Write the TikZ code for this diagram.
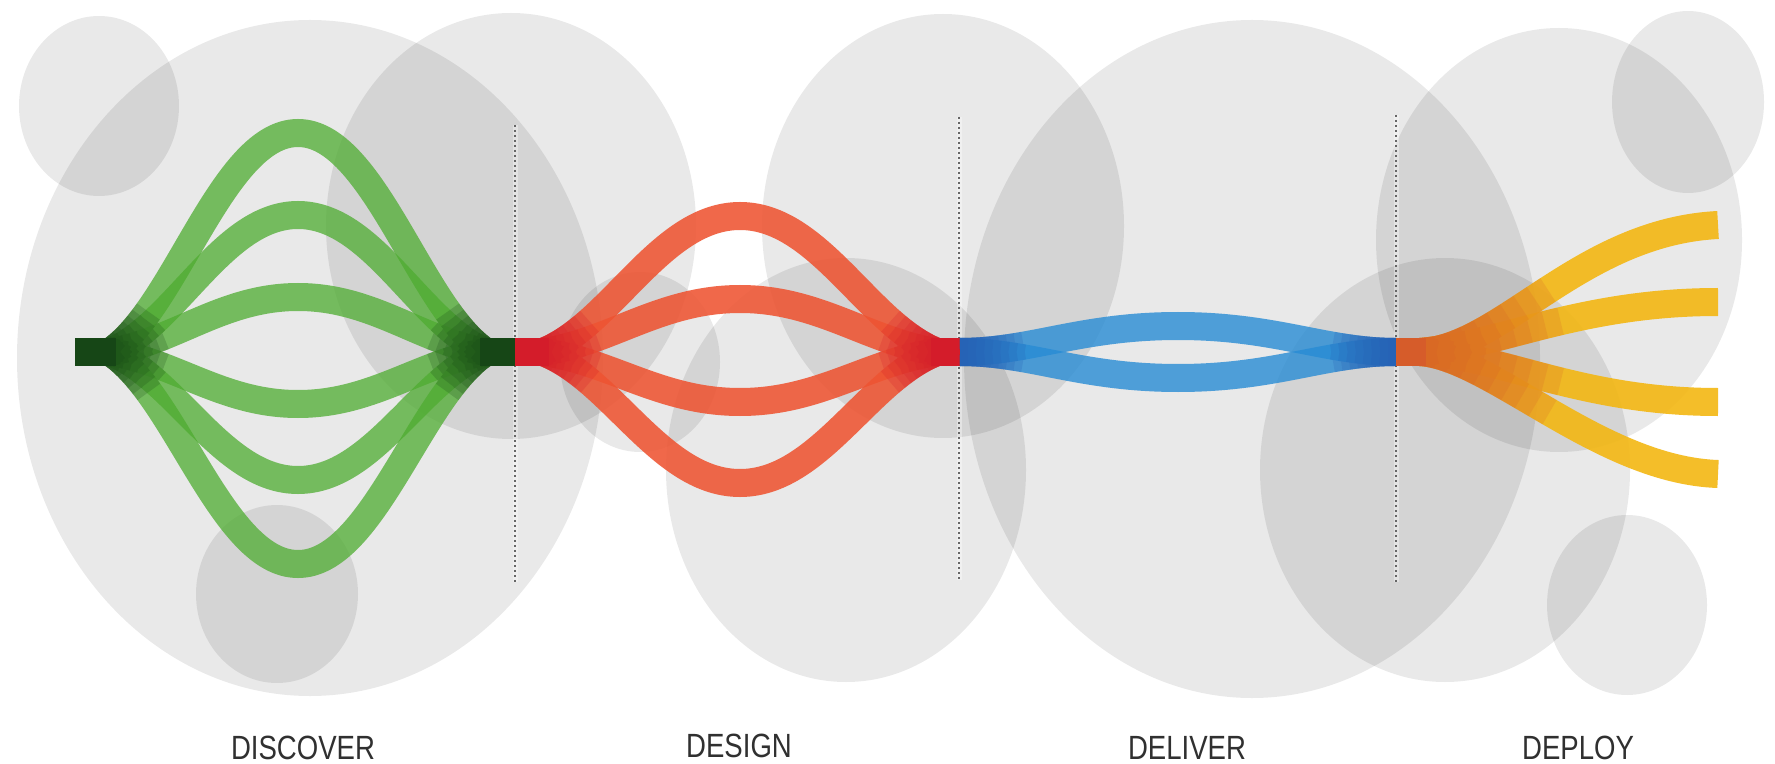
\documentclass[tikz,border=0pt]{standalone}
\usepackage{fontspec}
\usepackage{graphicx}
\newfontfamily\labfont{Liberation Sans}
\definecolor{gLight}{RGB}{78,172,48}
\definecolor{gDark}{RGB}{22,70,22}
\definecolor{rLight}{RGB}{238,84,50}
\definecolor{rDark}{RGB}{212,28,42}
\definecolor{bLight}{RGB}{40,140,212}
\definecolor{bDark}{RGB}{38,92,178}
\definecolor{yLight}{RGB}{243,183,18}
\definecolor{yDark}{RGB}{214,92,42}
\definecolor{labgray}{RGB}{48,48,48}
% half strands, each starting at its bundle
\newcommand\gLeftHalves{%
  (110,352) .. controls (176,308.2) and (223,133) .. (298,133)
  (110,352) .. controls (176,324.6) and (223,215) .. (298,215)
  (110,352) .. controls (176,341) and (223,297) .. (298,297)
  (110,352) .. controls (176,362.4) and (223,404) .. (298,404)
  (110,352) .. controls (176,377.6) and (223,480) .. (298,480)
  (110,352) .. controls (176,394.4) and (223,564) .. (298,564)}
\newcommand\gRightHalves{%
  (486,352) .. controls (420,308.2) and (373,133) .. (298,133)
  (486,352) .. controls (420,324.6) and (373,215) .. (298,215)
  (486,352) .. controls (420,341) and (373,297) .. (298,297)
  (486,352) .. controls (420,362.4) and (373,404) .. (298,404)
  (486,352) .. controls (420,377.6) and (373,480) .. (298,480)
  (486,352) .. controls (420,394.4) and (373,564) .. (298,564)}
\newcommand\rLeftHalves{%
  (543,352) .. controls (612,324.8) and (661,216) .. (740,216)
  (543,352) .. controls (612,341.4) and (661,299) .. (740,299)
  (543,352) .. controls (612,362) and (661,402) .. (740,402)
  (543,352) .. controls (612,378.2) and (661,483) .. (740,483)}
\newcommand\rRightHalves{%
  (937,352) .. controls (868,324.8) and (819,216) .. (740,216)
  (937,352) .. controls (868,341.4) and (819,299) .. (740,299)
  (937,352) .. controls (868,362) and (819,402) .. (740,402)
  (937,352) .. controls (868,378.2) and (819,483) .. (740,483)}
\newcommand\bLeftHalves{%
  (960,352) .. controls (1030,352) and (1080,326) .. (1178,326)
  (960,352) .. controls (1030,352) and (1080,378) .. (1178,378)}
\newcommand\bRightHalves{%
  (1396,352) .. controls (1326,352) and (1276,326) .. (1178,326)
  (1396,352) .. controls (1326,352) and (1276,378) .. (1178,378)}
\newcommand\yStrands{%
  (1420,352) .. controls (1500,350) and (1580,232) .. (1718,225)
  (1420,352) .. controls (1500,345) and (1580,302) .. (1718,302)
  (1420,352) .. controls (1500,355) and (1580,402) .. (1718,402)
  (1420,352) .. controls (1490,356) and (1600,470) .. (1718,474)}
\begin{document}
\begin{tikzpicture}[x=0.5pt,y=-0.5pt,
  bubble/.style={fill=black, fill opacity=0.088},
  divider/.style={draw=black!60, line width=0.7pt, dash pattern=on 1.2pt off 1.3pt},
  dividerhalo/.style={draw=white, line width=2.5pt, opacity=0.35},
  gstrand/.style={draw=gLight, line width=14pt, opacity=0.75},
  gshade/.style={draw=gDark, line width=14pt, opacity=0.21},
  gbundle/.style={draw=gDark, line width=14pt},
  rstrand/.style={draw=rLight, line width=14pt, opacity=0.88},
  rshade/.style={draw=rDark, line width=14pt, opacity=0.22},
  rbundle/.style={draw=rDark, line width=14pt},
  bstrand/.style={draw=bLight, line width=14pt, opacity=0.8},
  bshade/.style={draw=bDark, line width=14pt, opacity=0.2},
  ystrand/.style={draw=yLight, line width=14pt, opacity=0.9},
  yshade/.style={draw=yDark, line width=14pt, opacity=0.18},
  ybundle/.style={draw=yDark, line width=14pt},
  stagelabel/.style={text=labgray, font=\labfont\fontsize{16.8}{18}\selectfont, inner sep=0pt}
]
\fill[white] (0,0) rectangle (1775,764);
\useasboundingbox (0,0) rectangle (1775,764);

% background bubbles
\fill[bubble] (99,106) ellipse [x radius=40pt, y radius=45pt];
\fill[bubble] (310,358) ellipse [x radius=146.5pt, y radius=169pt];
\fill[bubble] (511,226) ellipse [x radius=92.5pt, y radius=106.5pt];
\fill[bubble] (640,362) ellipse [x radius=40pt, y radius=45pt];
\fill[bubble] (943,226) ellipse [x radius=90.5pt, y radius=106pt];
\fill[bubble] (846,470) ellipse [x radius=90pt, y radius=106pt];
\fill[bubble] (1252,359) ellipse [x radius=144pt, y radius=169.5pt];
\fill[bubble] (1445,470) ellipse [x radius=92.5pt, y radius=106pt];
\fill[bubble] (1559,240) ellipse [x radius=91.5pt, y radius=106pt];
\fill[bubble] (1688,102) ellipse [x radius=38pt, y radius=45.5pt];
\fill[bubble] (1627,605) ellipse [x radius=40pt, y radius=45pt];
\fill[bubble] (277,594) ellipse [x radius=40.5pt, y radius=44.5pt];

% dividers
\coordinate (d1t) at (515,125); \coordinate (d1b) at (515,582);
\coordinate (d2t) at (959,117); \coordinate (d2b) at (959,580);
\coordinate (d3t) at (1396,115); \coordinate (d3b) at (1396,582);
\draw[dividerhalo] (d1t) -- (d1b);
\draw[dividerhalo] (d2t) -- (d2b);
\draw[dividerhalo] (d3t) -- (d3b);
\draw[divider] (d1t) -- (d1b);
\draw[divider] (d2t) -- (d2b);
\draw[divider] (d3t) -- (d3b);

% DISCOVER strands (green)
\draw[gstrand] (110,352) .. controls (176,308.2) and (223,133) .. (298,133) .. controls (373,133) and (420,308.2) .. (486,352);
\draw[gstrand] (110,352) .. controls (176,324.6) and (223,215) .. (298,215) .. controls (373,215) and (420,324.6) .. (486,352);
\draw[gstrand] (110,352) .. controls (176,341) and (223,297) .. (298,297) .. controls (373,297) and (420,341) .. (486,352);
\draw[gstrand] (110,352) .. controls (176,362.4) and (223,404) .. (298,404) .. controls (373,404) and (420,362.4) .. (486,352);
\draw[gstrand] (110,352) .. controls (176,377.6) and (223,480) .. (298,480) .. controls (373,480) and (420,377.6) .. (486,352);
\draw[gstrand] (110,352) .. controls (176,394.4) and (223,564) .. (298,564) .. controls (373,564) and (420,394.4) .. (486,352);
\foreach \L in {4pt,8pt,12pt,16pt,20pt,24pt,28pt}
  \draw[gshade, dash pattern=on \L off 3000pt] \gLeftHalves \gRightHalves;
\draw[gbundle] (75,352) -- (116,352);
\draw[gbundle] (480,352) -- (515,352);

% DESIGN strands (red)
\draw[rstrand] (543,352) .. controls (612,324.8) and (661,216) .. (740,216) .. controls (819,216) and (868,324.8) .. (937,352);
\draw[rstrand] (543,352) .. controls (612,341.4) and (661,299) .. (740,299) .. controls (819,299) and (868,341.4) .. (937,352);
\draw[rstrand] (543,352) .. controls (612,362) and (661,402) .. (740,402) .. controls (819,402) and (868,362) .. (937,352);
\draw[rstrand] (543,352) .. controls (612,378.2) and (661,483) .. (740,483) .. controls (819,483) and (868,378.2) .. (937,352);
\foreach \L in {4pt,8pt,12pt,16pt,20pt,24pt,28pt}
  \draw[rshade, dash pattern=on \L off 3000pt] \rLeftHalves \rRightHalves;
\draw[rbundle] (515,352) -- (549,352);
\draw[rbundle] (931,352) -- (960,352);

% DELIVER strands (blue)
\draw[bstrand] (960,352) .. controls (1030,352) and (1080,326) .. (1178,326) .. controls (1276,326) and (1326,352) .. (1396,352);
\draw[bstrand] (960,352) .. controls (1030,352) and (1080,378) .. (1178,378) .. controls (1276,378) and (1326,352) .. (1396,352);
\foreach \L in {4pt,8pt,12pt,16pt,20pt,24pt,28pt,32pt}
  \draw[bshade, dash pattern=on \L off 3000pt] \bLeftHalves \bRightHalves;

% DEPLOY strands (yellow)
\draw[ystrand] (1420,352) .. controls (1500,350) and (1580,232) .. (1718,225);
\draw[ystrand] (1420,352) .. controls (1500,345) and (1580,302) .. (1718,302);
\draw[ystrand] (1420,352) .. controls (1500,355) and (1580,402) .. (1718,402);
\draw[ystrand] (1420,352) .. controls (1490,356) and (1600,470) .. (1718,474);
\foreach \L in {8pt,16pt,24pt,32pt,40pt,48pt,56pt,64pt,72pt}
  \draw[yshade, dash pattern=on \L off 3000pt] \yStrands;
\draw[ybundle] (1396,352) -- (1426,352);

% stage labels
\node[stagelabel] (discover) at (303,748) {\scalebox{0.82}[1]{DISCOVER}};
\node[stagelabel] (design) at (739,746) {\scalebox{0.82}[1]{DESIGN}};
\node[stagelabel] (deliver) at (1187,748) {\scalebox{0.82}[1]{DELIVER}};
\node[stagelabel] (deploy) at (1578,748) {\scalebox{0.82}[1]{DEPLOY}};
\end{tikzpicture}
\end{document}
